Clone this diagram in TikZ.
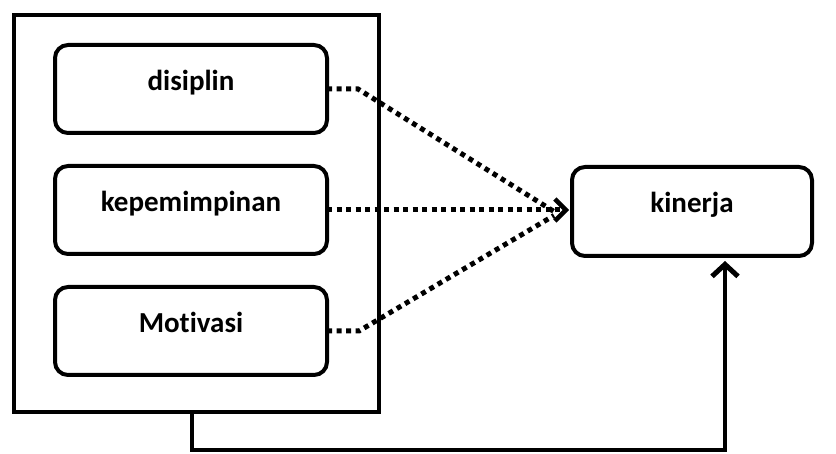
\documentclass[tikz,border=0pt]{standalone}
\usepackage{fontspec}
\setmainfont{Carlito}[Ligatures=NoCommon]
\usetikzlibrary{shapes,arrows.meta,positioning,calc,fit,shadows}

\begin{document}
\begin{tikzpicture}[x=1pt, y=1pt, node distance=33pt, font=\fontsize{29}{34}\selectfont\bfseries]
    \tikzstyle{var} = [rectangle, draw, line width=4pt, outer sep=0pt, rounded corners=13pt, fill=white, minimum width=272pt, minimum height=88pt, text height=12pt, text depth=9pt, drop shadow={shadow xshift=1.5pt, shadow yshift=-1.5pt, opacity=0.25}]
    \tikzstyle{panel} = [rectangle, draw, line width=4pt, outer sep=0pt, fill=white, minimum width=365pt, minimum height=396pt, drop shadow={shadow xshift=2pt, shadow yshift=-2pt, opacity=0.25}]
    \tikzstyle{dots} = [line width=5pt, dash pattern=on 5pt off 4.5pt]
    \tikzstyle{solidline} = [line width=4pt]

    \useasboundingbox (0,0) rectangle (836,453);

    \node [panel] (group) at (196,239.5) {};
    \node [var] (disiplin) at (191,364) {disiplin};
    \node [var, below=of disiplin] (kepemimpinan) {kepemimpinan};
    \node [var, below=of kepemimpinan] (motivasi) {Motivasi};
    \node [var, right=245pt of kepemimpinan, minimum width=240pt, minimum height=89pt, yshift=-1.5pt] (kinerja) {kinerja};

    \coordinate (meet) at ([xshift=-18pt]kinerja.west);

    \draw [dots] (disiplin.east) -- ++(31,0) -- (meet);
    \draw [dots, -{Straight Barb[length=11pt,width=22pt,line width=4.5pt]}, shorten >=3pt] (kepemimpinan.east) -- (kepemimpinan.east -| kinerja.west);
    \draw [dots] (motivasi.east) -- ++(32,0) -- ([yshift=-4pt]meet);
    \draw [solidline, -{Straight Barb[length=12pt,width=26pt,line width=5pt]}, shorten >=5pt] ([xshift=-4pt]group.south) -- ++(0,-38.5) -| ([xshift=33pt]kinerja.south);
\end{tikzpicture}
\end{document}
